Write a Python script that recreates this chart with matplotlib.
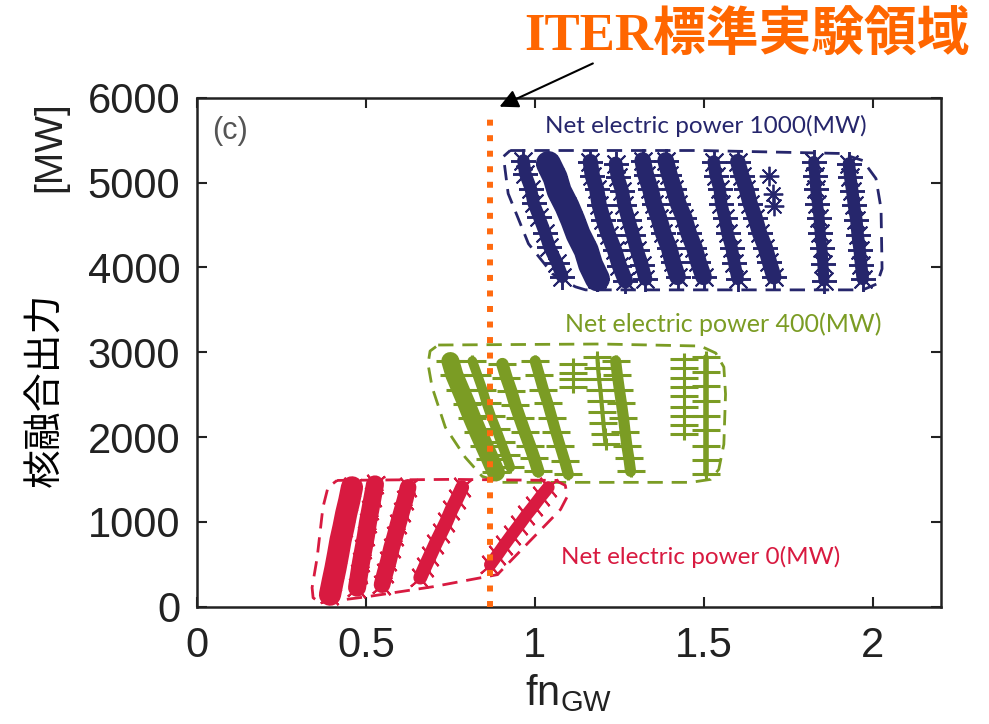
import numpy as np
import matplotlib
matplotlib.use("Agg")
from matplotlib import pyplot as plt
from matplotlib.path import Path

plt.rcParams['font.family'] = ['Liberation Sans', 'DejaVu Sans']
plt.rcParams['mathtext.fontset'] = 'custom'
plt.rcParams['mathtext.rm'] = 'Liberation Sans'
plt.rcParams['mathtext.it'] = 'Liberation Sans'

# ---- data: fnGW, fusion power [MW] ----
# net electric power 1000 MW (navy stripes)
navy_stripes = [
    [(0.966, 5260), (0.972, 5100), (0.988, 4930), (0.996, 4760), (1.012, 4600),
     (1.030, 4410), (1.043, 4240), (1.066, 4050), (1.081, 3889)],
    [(1.040, 5224), (1.060, 5060), (1.072, 4900), (1.095, 4720), (1.112, 4560),
     (1.128, 4390), (1.152, 4200), (1.165, 4030), (1.185, 3865)],
    [(1.164, 5248), (1.170, 5080), (1.183, 4920), (1.190, 4740), (1.203, 4560),
     (1.218, 4380), (1.236, 4200), (1.250, 4020), (1.268, 3842)],
    [(1.239, 5224), (1.245, 5060), (1.258, 4900), (1.265, 4730), (1.277, 4560),
     (1.290, 4380), (1.302, 4200), (1.316, 4030), (1.327, 3865)],
    [(1.319, 5260), (1.328, 5090), (1.342, 4920), (1.352, 4750), (1.367, 4580),
     (1.380, 4400), (1.397, 4230), (1.408, 4060), (1.422, 3889)],
    [(1.387, 5260), (1.398, 5090), (1.412, 4920), (1.424, 4750), (1.442, 4580),
     (1.455, 4400), (1.472, 4230), (1.484, 4060), (1.499, 3889)],
    [(1.529, 5248), (1.535, 5080), (1.547, 4920), (1.551, 4750), (1.562, 4580),
     (1.570, 4400), (1.582, 4230), (1.590, 4050), (1.600, 3865)],
    [(1.600, 5248), (1.612, 5080), (1.626, 4920), (1.637, 4750), (1.652, 4580),
     (1.665, 4400), (1.682, 4230), (1.694, 4060), (1.707, 3889)],
    [(1.825, 5248), (1.828, 5080), (1.831, 4920), (1.836, 4750), (1.841, 4580),
     (1.844, 4400), (1.849, 4230), (1.852, 4040), (1.855, 3842)],
    [(1.929, 5224), (1.933, 5060), (1.939, 4900), (1.944, 4730), (1.951, 4560),
     (1.955, 4380), (1.961, 4200), (1.965, 4030), (1.970, 3865)],
]
navy_single = [(1.692, 5083), (1.704, 4870), (1.707, 4728)]

# net electric power 400 MW (green stripes)
green_stripes = [
    [(0.750, 2896), (0.762, 2730), (0.780, 2560), (0.798, 2390), (0.815, 2220),
     (0.832, 2060), (0.850, 1900), (0.868, 1740), (0.885, 1584)],
    [(0.815, 2896), (0.830, 2730), (0.845, 2560), (0.857, 2400), (0.870, 2250),
     (0.886, 2090), (0.900, 1940), (0.914, 1790), (0.927, 1643)],
    [(0.904, 2860), (0.916, 2700), (0.930, 2540), (0.942, 2380), (0.955, 2230),
     (0.970, 2060), (0.985, 1900), (0.998, 1750), (1.010, 1596)],
    [(1.001, 2896), (1.013, 2730), (1.025, 2560), (1.038, 2400), (1.050, 2230),
     (1.062, 2060), (1.075, 1890), (1.088, 1720), (1.099, 1560)],
    [(1.114, 2860), (1.114, 2760), (1.114, 2680), (1.114, 2589)],
    [(1.185, 2943), (1.187, 2810), (1.190, 2680), (1.194, 2550), (1.197, 2420),
     (1.200, 2290), (1.203, 2160), (1.206, 2040), (1.209, 1915)],
    [(1.239, 2896), (1.244, 2730), (1.250, 2560), (1.256, 2400), (1.262, 2230),
     (1.267, 2060), (1.272, 1900), (1.278, 1750), (1.283, 1596)],
    [(1.440, 2919), (1.440, 2810), (1.440, 2700), (1.440, 2590), (1.440, 2480),
     (1.440, 2360), (1.440, 2250), (1.440, 2140), (1.440, 2033)],
    [(1.505, 2943), (1.505, 2770), (1.505, 2600), (1.505, 2430), (1.505, 2250),
     (1.505, 2080), (1.505, 1900), (1.505, 1730), (1.505, 1560)],
]

# net electric power 0 MW (red stripes)
red_stripes = [
    [(0.394, 142), (0.402, 300), (0.410, 450), (0.418, 620), (0.425, 780),
     (0.434, 940), (0.442, 1100), (0.451, 1250), (0.459, 1407)],
    [(0.474, 225), (0.480, 380), (0.486, 530), (0.493, 680), (0.500, 830),
     (0.506, 990), (0.513, 1140), (0.520, 1290), (0.527, 1442)],
    [(0.548, 260), (0.557, 400), (0.567, 540), (0.576, 690), (0.586, 830),
     (0.596, 980), (0.606, 1120), (0.616, 1260), (0.625, 1407)],
    [(0.661, 343), (0.675, 470), (0.690, 600), (0.706, 740), (0.722, 870),
     (0.738, 1000), (0.753, 1140), (0.769, 1270), (0.785, 1407)],
    [(0.868, 496), (0.889, 610), (0.910, 730), (0.932, 850), (0.953, 960),
     (0.975, 1080), (0.997, 1190), (1.018, 1300), (1.040, 1407)],
]

# dashed outlines
navy_env = [(0.927, 5378), (1.490, 5378), (1.905, 5343), (1.970, 5260), (2.009, 5047),
            (2.024, 4693), (2.027, 3983), (2.012, 3806), (1.970, 3735), (1.150, 3735),
            (1.120, 3771), (1.052, 3924), (0.981, 4279), (0.921, 4870), (0.907, 5307),
            (0.927, 5378)]
green_env = [(0.714, 3085), (1.194, 3097), (1.490, 3073), (1.535, 2990), (1.559, 2825),
             (1.564, 2506), (1.559, 1915), (1.544, 1619), (1.520, 1501), (1.461, 1466),
             (0.898, 1466), (0.844, 1537), (0.794, 1761), (0.735, 2116), (0.696, 2589),
             (0.684, 2860), (0.690, 3014), (0.714, 3085)]
red_env = [(0.415, 1489), (0.750, 1501), (1.061, 1489), (1.090, 1430), (1.096, 1300),
           (1.076, 1147), (0.889, 378), (0.699, 236), (0.504, 118), (0.364, 47),
           (0.344, 106), (0.341, 225), (0.356, 579), (0.373, 1170), (0.388, 1407),
           (0.415, 1489)]

iter_fn = 0.868
iter_top = 5780

xticks = [0, 0.5, 1, 1.5, 2]
xticklabels = ['0', '0.5', '1', '1.5', '2']
yticks = [0, 1000, 2000, 3000, 4000, 5000, 6000]

# ---- style ----
c_navy = '#26266c'
c_green = '#7b9c24'
c_red = '#d81a40'
c_orange = '#ff6a10'

navy_w = [9, 18, 11, 10, 12, 12, 9, 11, 8, 9]
green_w = [13, 7, 9, 8, 1, 3, 8, 1, 4]
red_w = [16, 13, 12, 10, 9]

plus_wide = Path([(-1, 0), (1, 0), (0, -0.45), (0, 0.45)],
                 [Path.MOVETO, Path.LINETO, Path.MOVETO, Path.LINETO])

fig = plt.figure(figsize=(9.89, 7.24), dpi=100)
ax = fig.add_axes([0.199, 0.162, 0.752, 0.703])


def draw(stripes, widths, color, marker, ms, mew):
    for s, w in zip(stripes, widths):
        xs = [p[0] for p in s]
        ys = [p[1] for p in s]
        ax.plot(xs, ys, color=color, lw=w, solid_capstyle='round', zorder=2)
        ax.plot(xs, ys, ls='none', marker=marker, ms=ms, mew=mew,
                color=color, zorder=3)


def outline(env, color):
    ax.plot([p[0] for p in env], [p[1] for p in env], color=color, lw=2.0,
            ls=(0, (5.5, 3.2)), zorder=1)


draw(red_stripes, red_w, c_red, (4, 2, 40), 18, 1.5)
draw(green_stripes, green_w, c_green, plus_wide, 20, 2.2)
draw(navy_stripes, navy_w, c_navy, (8, 2, 0), 18, 1.4)
ax.plot([p[0] for p in navy_single], [p[1] for p in navy_single], ls='none',
        marker=(8, 2, 0), ms=14, mew=1.3, color=c_navy, zorder=3)

outline(navy_env, c_navy)
outline(green_env, c_green)
outline(red_env, c_red)

ax.plot([iter_fn, iter_fn], [0, iter_top], color=c_orange, lw=4.3,
        ls=(0, (1, 1.6)), zorder=5)

lab_font = ['Lato', 'DejaVu Sans']
ax.text(1.505, 5662, 'Net electric power 1000(MW)', color=c_navy, fontsize=17.5,
        ha='center', va='center', family=lab_font)
ax.text(1.556, 3333, 'Net electric power 400(MW)', color=c_green, fontsize=18,
        ha='center', va='center', family=lab_font)
ax.text(1.490, 591, 'Net electric power 0(MW)', color=c_red, fontsize=17.5,
        ha='center', va='center', family=lab_font)
ax.text(0.098, 5603, '(c)', color='#555555', fontsize=22, ha='center', va='center')

ax.set_xlim(0, 2.2)
ax.set_ylim(0, 6000)
ax.set_xticks(xticks)
ax.set_xticklabels(xticklabels)
ax.set_yticks(yticks)
ax.tick_params(direction='in', length=7, width=1.5, top=True, right=True,
               labelsize=30, colors='#222222')
ax.tick_params(axis='x', pad=14)
ax.tick_params(axis='y', pad=12)
for sp in ax.spines.values():
    sp.set_linewidth(1.8)
    sp.set_color('#222222')

ax.set_xlabel('fn$_{\\mathrm{GW}}$', fontsize=30, color='#222222', labelpad=4)

fig.text(0.0455, 0.461, '核融合出力', rotation=90, fontsize=28, ha='center',
         va='center', family=['Noto Sans CJK JP', 'DejaVu Sans'])
fig.text(0.0506, 0.797, '[MW]', rotation=90, fontsize=28, ha='center',
         va='center', color='#222222')

fig.text(0.755, 0.950, 'ITER標準実験領域', color='#ff6600', fontsize=38,
         fontweight='bold', ha='center', va='center',
         family=['Liberation Serif', 'Noto Sans CJK JP'])
ax.annotate('', xy=(0.5025, 0.851), xycoords='figure fraction',
            xytext=(0.602, 0.914), textcoords='figure fraction',
            arrowprops=dict(arrowstyle='-|>', color='black', lw=1.5,
                            mutation_scale=28))

fig.savefig('out.png', dpi=100)
